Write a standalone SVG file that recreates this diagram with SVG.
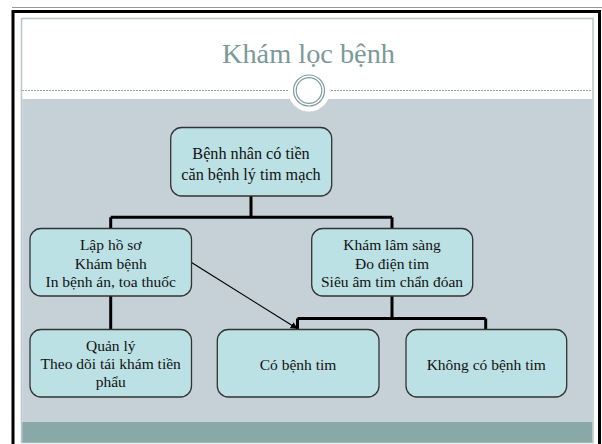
<svg xmlns="http://www.w3.org/2000/svg" width="602" height="444" viewBox="0 0 602 444">
<defs>
<style>
.box{fill:#bce1e4;stroke:#333;stroke-width:1.3}
.c{fill:none;stroke:#000;stroke-width:3;stroke-linejoin:miter}
</style>
<marker id="ah" viewBox="0 0 10 10" refX="9" refY="5" markerWidth="7" markerHeight="7" orient="auto" markerUnits="userSpaceOnUse">
<path d="M0,0 L10,5 L0,10 z" fill="#000"/>
</marker>
</defs>
<rect x="0" y="0" width="602" height="444" fill="#fff"/>
<line x1="12" y1="7.5" x2="602" y2="7.5" stroke="#999" stroke-width="1"/>
<path d="M13,444 V11.5 H599.5 V444" fill="none" stroke="#000" stroke-width="3"/>
<rect x="21.5" y="18.5" width="571.5" height="424" fill="#fff" stroke="#b8c6c6" stroke-width="1.5"/>
<rect x="22.25" y="99" width="570" height="323" fill="#c6d1d7"/>
<rect x="22.25" y="422" width="570" height="20.5" fill="#89a9a8"/>
<line x1="22" y1="90.5" x2="592" y2="90.5" stroke="#8ea3a3" stroke-width="1" stroke-dasharray="2,1"/>
<circle cx="309" cy="90.5" r="21" fill="#fff"/>
<circle cx="309" cy="90.5" r="15.5" fill="#fff" stroke="#7f9d9d" stroke-width="1.2"/>
<circle cx="309" cy="90.5" r="12.8" fill="none" stroke="#7f9d9d" stroke-width="1.2"/>
<text x="308.5" y="63" font-family="'Liberation Serif','Times New Roman',serif" font-size="28" fill="#7a9a9a" text-anchor="middle" textLength="173" lengthAdjust="spacingAndGlyphs">Khám lọc bệnh</text>
<g id="connectors">
<path class="c" d="M251,196 V217.3 M110.7,217.3 H392 M110.7,217.3 V229 M392,217.3 V229"/>
<path class="c" d="M110.7,296 V329.5"/>
<path class="c" d="M392,296 V318.5 M297.5,318.5 H485.7 M297.5,318.5 V329.5 M485.7,318.5 V329.5"/>
<line x1="191.5" y1="262.5" x2="297" y2="328.5" stroke="#000" stroke-width="1.2" marker-end="url(#ah)"/>
</g>
<g font-family="'Liberation Serif','Times New Roman',serif" font-size="15.5" fill="#111" text-anchor="middle">
<g id="root">
<rect class="box" x="170.7" y="127.5" width="161" height="68.5" rx="11"/>
<text font-size="16.2" x="251" y="158.5">Bệnh nhân có tiền</text>
<text font-size="16.2" x="251" y="179.5">căn bệnh lý tim mạch</text>
</g>
<g id="lapho">
<rect class="box" x="30" y="228.5" width="161.5" height="67.5" rx="11"/>
<text x="110.7" y="250">Lập hồ sơ</text>
<text x="110.7" y="268.5">Khám bệnh</text>
<text x="110.7" y="287">In bệnh án, toa thuốc</text>
</g>
<g id="khamls">
<rect class="box" x="311.7" y="228.5" width="161" height="67.5" rx="11"/>
<text x="392" y="250">Khám lâm sàng</text>
<text x="392" y="268.5">Đo điện tim</text>
<text x="392" y="287">Siêu âm tim chẩn đóan</text>
</g>
<g id="quanly">
<rect class="box" x="30" y="329.5" width="161.5" height="67.5" rx="11"/>
<text x="110.7" y="351">Quản lý</text>
<text x="110.7" y="369">Theo dõi tái khám tiền</text>
<text x="110.7" y="387">phẩu</text>
</g>
<g id="cobenh">
<rect class="box" x="217.3" y="329.5" width="161.7" height="67.5" rx="11"/>
<text x="298" y="370">Có bệnh tim</text>
</g>
<g id="khongbenh">
<rect class="box" x="406" y="329.5" width="160.7" height="67.5" rx="11"/>
<text x="486.3" y="370">Không có bệnh tim</text>
</g>
</g>
</svg>
